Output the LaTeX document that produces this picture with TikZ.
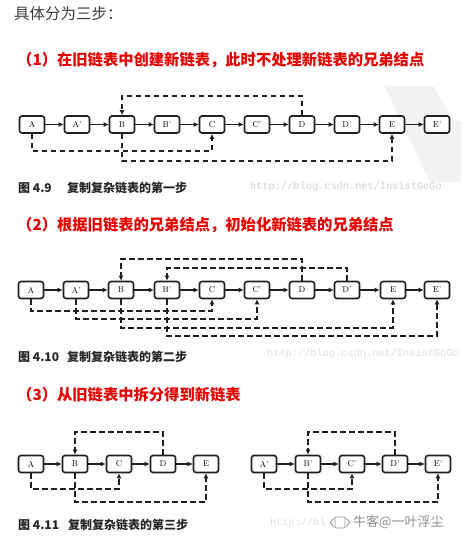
\documentclass[tikz,border=0pt]{standalone}
\usepackage{fontspec}
\newfontfamily\cjk{Noto Sans CJK SC}
\newfontfamily\wmfont{Liberation Mono}
\usetikzlibrary{arrows.meta}
\definecolor{hdred}{RGB}{228,0,0}
\definecolor{txtgray}{RGB}{60,60,60}
\begin{document}
\begin{tikzpicture}[x=1pt,y=-1pt,
 nd/.style={draw=black!88, line width=1.6pt, rounded corners=2.5pt, minimum width=25pt, minimum height=17pt, inner sep=0pt, fill=white, font=\fontsize{8.5}{8.5}\selectfont},
 nx/.style={line width=1.5pt, black!88, -{Latex[length=5pt,width=5pt]}},
 dl/.style={line width=1.6pt, black!88, dash pattern=on 5.5pt off 3.5pt, -{Latex[length=5pt,width=5pt]}},
 hd/.style={anchor=west, inner sep=0pt, text=hdred, font=\cjk\bfseries\fontsize{15.3}{17}\selectfont},
 figcap/.style={anchor=west, inner sep=0pt, text=black!85, font=\cjk\bfseries\fontsize{12}{13}\selectfont},
 wm/.style={anchor=west, inner sep=0pt, text=black!18, font=\wmfont\fontsize{10.3}{11}\selectfont}
]
\useasboundingbox (0,0) rectangle (461,540);
\fill[white] (0,0) rectangle (461,540);

% background watermark band
\fill[black!5] (384,86) -- (434,86) -- (452,120) -- (461,122) -- (461,182) -- (430,182) -- cycle;

% headings
\node[anchor=west, inner sep=0pt, text=txtgray, font=\cjk\fontsize{15.5}{17}\selectfont] (t0) at (14,14) {具体分为三步：};
\node[hd] (h1) at (17,60) {（1）在旧链表中创建新链表，此时不处理新链表的兄弟结点};
\node[hd] (h2) at (17,225) {（2）根据旧链表的兄弟结点，初始化新链表的兄弟结点};
\node[hd] (h3) at (17,395) {（3）从旧链表中拆分得到新链表};

% ---------------- Figure 4.9 ----------------
\node[nd] (p1) at (32,124.5) {A};
\node[nd] (p2) at (77,124.5) {A'};
\node[nd] (p3) at (122,124.5) {B};
\node[nd] (p4) at (167,124.5) {B'};
\node[nd] (p5) at (212,124.5) {C};
\node[nd] (p6) at (257,124.5) {C'};
\node[nd] (p7) at (302,124.5) {D};
\node[nd] (p8) at (347,124.5) {D'};
\node[nd] (p9) at (392,124.5) {E};
\node[nd] (p10) at (437,124.5) {E'};
\foreach \u/\v in {p1/p2,p2/p3,p3/p4,p4/p5,p5/p6,p6/p7,p7/p8,p8/p9,p9/p10}
  \draw[nx] (\u) -- (\v);
\draw[dl] (p7.north) -- (p7.north |- 0,96) -| (p3.north);
\draw[dl] (p1.south) -- (p1.south |- 0,151) -| (p5.south);
\draw[dl] (p3.south) -- (p3.south |- 0,161) -| (p9.south);
\node[figcap] (c1a) at (18,188) {图 4.9};
\node[figcap] (c1b) at (67,188) {复制复杂链表的第一步};
\node[wm] (w1) at (250,187) {http://blog.csdn.net/InsistGoGo};

% ---------------- Figure 4.10 ----------------
\node[nd] (q1) at (31,290) {A};
\node[nd] (q2) at (76,290) {A'};
\node[nd] (q3) at (121,290) {B};
\node[nd] (q4) at (167,290) {B'};
\node[nd] (q5) at (212,290) {C};
\node[nd] (q6) at (257,290) {C'};
\node[nd] (q7) at (302,290) {D};
\node[nd] (q8) at (347,290) {D'};
\node[nd] (q9) at (393,290) {E};
\node[nd] (q10) at (437,290) {E'};
\foreach \u/\v in {q1/q2,q2/q3,q3/q4,q4/q5,q5/q6,q6/q7,q7/q8,q8/q9,q9/q10}
  \draw[nx] (\u) -- (\v);
\draw[dl] (q7.north) -- (q7.north |- 0,259) -| (q3.north);
\draw[dl] (q8.north) -- (q8.north |- 0,268) -| (q4.north);
\draw[dl] (q1.south) -- (q1.south |- 0,311) -| (q5.south);
\draw[dl] (q2.south) -- (q2.south |- 0,319) -| (q6.south);
\draw[dl] (q3.south) -- (q3.south |- 0,328) -| (q9.south);
\draw[dl] (q4.south) -- (q4.south |- 0,336) -| (q10.south);
\node[figcap] (c2a) at (18,357) {图 4.10};
\node[figcap] (c2b) at (67,357) {复制复杂链表的第二步};
\node[wm, text=black!12] (w2) at (267,354) {http://blog.csdn.net/InsistGoGo};

% ---------------- Figure 4.11 ----------------
\node[nd] (r1) at (31,464) {A};
\node[nd] (r2) at (75,464) {B};
\node[nd] (r3) at (119,464) {C};
\node[nd] (r4) at (163,464) {D};
\node[nd] (r5) at (206,464) {E};
\foreach \u/\v in {r1/r2,r2/r3,r3/r4,r4/r5}
  \draw[nx] (\u) -- (\v);
\draw[dl] (r4.north) -- (r4.north |- 0,432) -| (r2.north);
\draw[dl] (r1.south) -- (r1.south |- 0,489) -| (r3.south);
\draw[dl] (r2.south) -- (r2.south |- 0,502) -| (r5.south);

\node[nd] (s1) at (264,464) {A'};
\node[nd] (s2) at (308,464) {B'};
\node[nd] (s3) at (352,464) {C'};
\node[nd] (s4) at (395,464) {D'};
\node[nd] (s5) at (438,464) {E'};
\foreach \u/\v in {s1/s2,s2/s3,s3/s4,s4/s5}
  \draw[nx] (\u) -- (\v);
\draw[dl] (s4.north) -- (s4.north |- 0,432) -| (s2.north);
\draw[dl] (s1.south) -- (s1.south |- 0,489) -| (s3.south);
\draw[dl] (s2.south) -- (s2.south |- 0,502) -| (s5.south);

\node[figcap] (c3a) at (18,525) {图 4.11};
\node[figcap] (c3b) at (68,525) {复制复杂链表的第三步};
\node[wm, text=black!12] (w3) at (270,523) {http://bl};
% small logo of the watermark
\draw[black!40, line width=0.8pt, rounded corners=1pt] (335,517) rectangle (345,528);
\draw[black!40, line width=0.8pt] (334,518) -- (330,522.5) -- (334,527) (346,518) -- (350,522.5) -- (346,527);
\node[anchor=west, inner sep=0pt, text=black!45, font=\cjk\fontsize{13}{14}\selectfont] (w4) at (353,522) {牛客@一叶浮尘};
\end{tikzpicture}
\end{document}
